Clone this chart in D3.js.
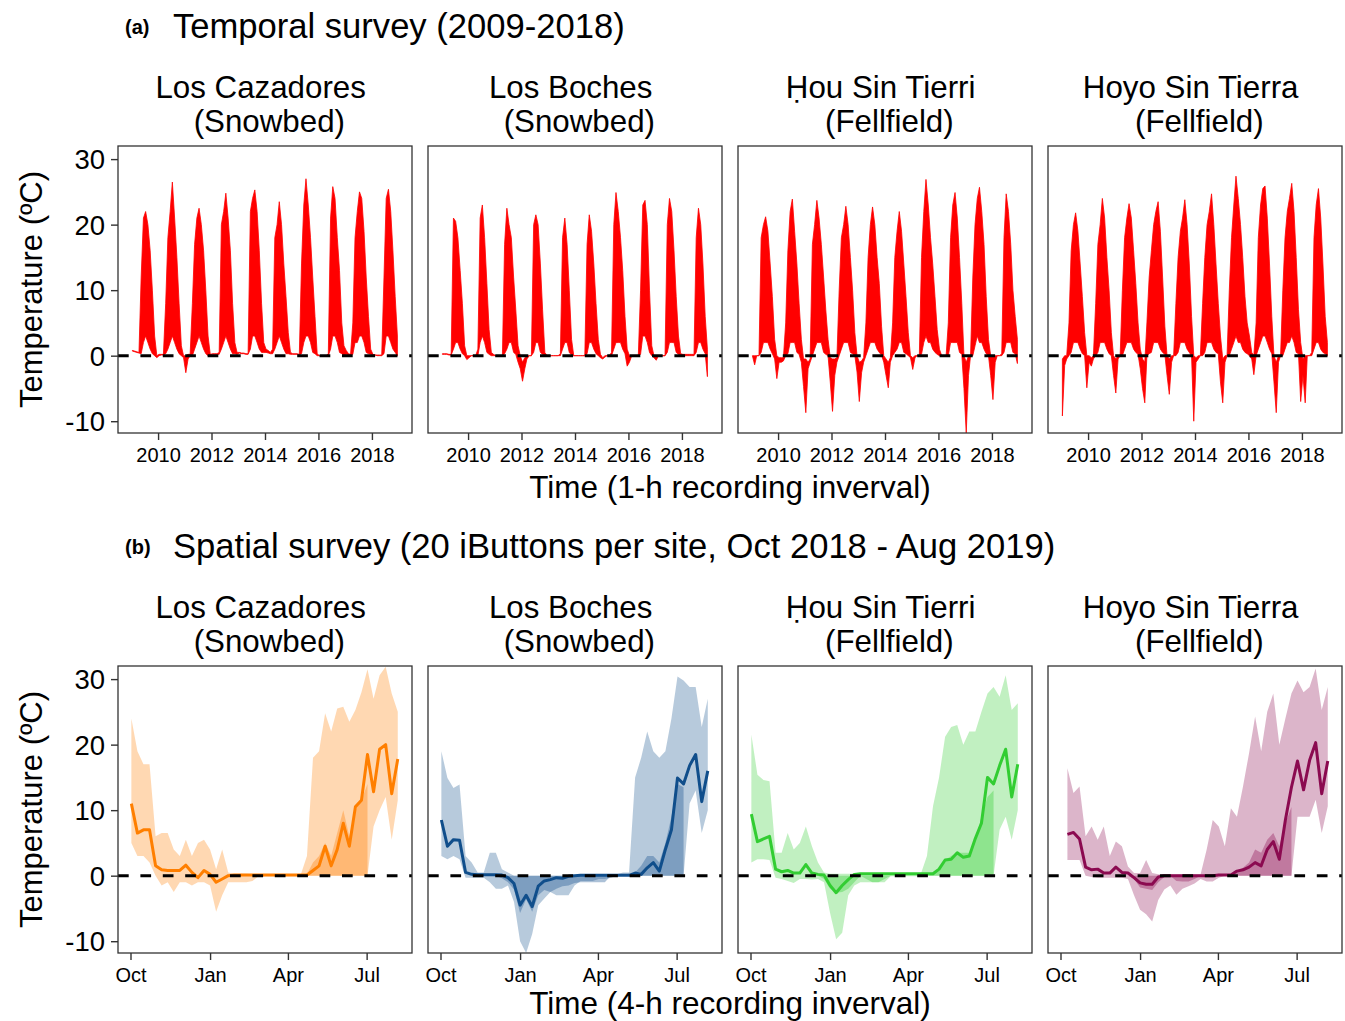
<!DOCTYPE html>
<html>
<head>
<meta charset="utf-8">
<script src="https://cdn.jsdelivr.net/npm/d3@7"></script>
<style>
  body { margin: 0; background: #fff; }
  text { font-family: "Liberation Sans", Arial, Helvetica, sans-serif; fill: #000; }
</style>
</head>
<body>
<svg id="chart" width="1345" height="1021"></svg>
<script>
// ---- data ----------------------------------------------------------------
// (a) temporal survey: monthly envelope (max / min of the hourly records), one row per year 2009..2018
var years = [2009, 2010, 2011, 2012, 2013, 2014, 2015, 2016, 2017, 2018];
var yearTicks = [2010, 2012, 2014, 2016, 2018];

var cazHi = [
  [.8,.7,.6,.5,12,21,22,20,16,10,3,0],
  [.2,.2,.2,8,18,22,26.5,21,15,8,1.5,0],
  [0,.2,.2,8,17,21,22.5,20,16,10,3,.2],
  [.3,.3,.3,.5,20,22,24.8,21,16,8,2,.5],
  [.5,.4,.4,.3,.3,22,24,25.3,22,16,8,2],
  [1,.8,.5,1,18,20,23.5,20,14,9,3.5,.5],
  [.3,.3,.3,.2,14,23,27,23,18,12,6,.3],
  [0,0,0,0,.3,21,25.8,24,18,13,5,1.5],
  [.8,.3,.2,5,18,22,25,24,19,12,6,1],
  [.2,.1,.1,.1,.1,12,24,25.4,22,16,9,3]
];
var cazLo = [
  [.7,.6,.5,.4,.3,2,3,2,1,.3,0,-.3],
  [0,.1,.1,.3,1,2,3,2,1,.3,0,-.3],
  [-2.6,-.5,0,0,1,2,3,2,1,.3,0,0],
  [.2,.2,.2,.2,1,2,3,2,1,.3,.3,.2],
  [.4,.3,.3,.2,.2,1,3,3,2,1,.5,.5],
  [.5,.4,.3,.3,1,2,3,2,1,.3,.3,.2],
  [.2,.2,.2,.1,.3,2,3,3,2,.5,.3,0],
  [0,0,0,0,0,1,3,3,2,.5,.3,0],
  [.2,.1,.1,.2,2,2,3,3,2,.5,.3,.2],
  [.1,.1,0,0,0,.3,3,3,2,1,.5,0]
];
var bochesHi = [
  [.3,.3,.3,.2,.2,21,20.5,18,13,8,1.5,0],
  [0,0,0,0,1,21,23,18,11,4,.5,.2],
  [0,0,0,0,17,22.5,20,18,12,7,1.5,0],
  [-1,-.3,0,0,0,20,21.5,20,14,7,.5,0],
  [0,0,0,0,0,.3,18,21,17,10,2.5,0],
  [0,0,0,0,0,17,21.5,19,14,8,2.5,.2],
  [-.3,0,0,0,.5,20,24.9,22,18,13,6,1],
  [0,0,0,0,0,10,23,23.7,20,10,1.5,0],
  [0,0,0,0,0,20,24,22,16,9,3,.3],
  [.2,.2,.2,.2,.2,.2,18,22.5,20,14,6,1]
];
var bochesLo = [
  [.2,.2,.2,.1,.1,1,2,2,1,.3,0,-.6],
  [-.3,0,0,0,0,2,3,2,.5,.2,0,0],
  [0,0,0,0,.3,1,2,2,.5,.2,-1,-2],
  [-3.9,-2,-.5,0,0,.5,2,2,.5,.2,0,0],
  [0,0,0,0,0,0,1,2,2,.5,.1,0],
  [0,0,0,0,0,.3,2,2,1,.3,0,-.3],
  [-.5,-.2,0,0,0,1,2,2,2,1,.3,-1.6],
  [-1,0,0,0,0,.2,3,3,2,.5,0,-.3],
  [-.7,0,0,0,0,.5,2,2,2,.5,.2,0],
  [0,0,0,0,0,0,.5,2,2,1,.3,-3.2]
];
var houHi = [
  [0,0,0,0,18,20,21.2,19,14,9,2.5,0],
  [-.3,-.3,-.3,5,16,22,23.9,19,14,8,2.5,-.5],
  [-.5,-1,-.5,17,20,23.7,21,17,12,7,2.5,-.3],
  [-.5,-.5,-.3,10,18,20,22.8,20,15,10,3.5,0],
  [-1,-.8,-.3,5,15,20,22.7,20,15,11,4.5,0],
  [-.5,-1,-.3,5,15,19,22,19,14,9,3.5,0],
  [-.3,0,0,0,15,22,26.9,23,18,14,9,4],
  [1,0,0,0,5,18,23,24.9,21,15,8,0],
  [-1,0,0,12,20,24,25.7,22,17,9,2.5,0],
  [0,0,0,0,.3,18,24.7,22,17,10,6,2.5]
];
var houLo = [
  [0,-1.4,0,0,.5,2,2,2,1,.3,-.5,-3.5],
  [-1,-1,-.8,0,.3,2,2,2,.5,.2,-1,-4.7],
  [-8.7,-2,-1,0,1,2,2,2,.5,.2,0,-4],
  [-8.5,-3,-1,0,1,2,2,2,.5,.3,0,-2.5],
  [-7,-2.6,-1,0,1,2,2,2,1,.5,.1,-1],
  [-3,-4.9,-1,0,.5,1,2,2,.5,.3,0,-.3],
  [-2.1,-.3,0,0,.2,2,3,2,2,1,.5,.2],
  [0,0,0,0,0,2,2,2,2,.5,.2,-5],
  [-11.8,-3,0,0,1.5,3,2,2,1,.3,0,-3],
  [-6.7,-1,0,0,0,.5,2,2,2,.5,.3,-1.2]
];
var hoyoHi = [
  [-.5,0,0,5,16,20,21.8,19,14,9,3.5,0],
  [0,-.3,0,8,17,20,24,21,15,10,3.5,0],
  [-.5,0,0,10,18,21,23.2,21,16,11,5,1],
  [-.5,-1,5,12,16,20,22,23.5,19,12,4.5,0],
  [-.5,0,0,8,15,19,21,23.8,20,14,6,0],
  [-.3,0,0,8,15,20,22,24.7,20,14,8,3],
  [-.5,0,0,10,18,23,27.4,24,20,15,9,5],
  [3,.5,0,5,18,23,25.5,25.9,21,14,6,0],
  [-1,0,0,10,18,22,24,26.3,22,15,7,2],
  [-.5,0,0,0,.5,18,23,25.5,21,14,6,2]
];
var hoyoLo = [
  [-9.2,-1.5,-.5,0,.5,2,2,2,1,.3,0,-4.9],
  [-1,-1.6,-.5,0,.5,2,2,2,1,.3,0,-3],
  [-5.7,-.5,0,0,1,2,2,2,1,.5,.2,-2],
  [-5,-7.2,0,.3,.5,2,2,2,1,.5,.2,-3],
  [-5.9,-1,0,0,.5,2,2,2,1,.5,0,-10],
  [-1,-.5,0,0,.5,2,2,2,1,.5,.3,-4],
  [-7.2,-1,0,0,1,2,3,2,2,1,.5,.3],
  [0,-.5,-2.9,0,1,2,3,3,2,1,.3,-4],
  [-8.7,-1,0,0,1,2,2,3,2,.5,.3,-7],
  [-3,-7.2,0,0,0,1,2,2,1,.5,.3,0]
];

// (b) spatial survey: weekly values from 2 Oct 2018 (45 weeks)
// mean = thick line, hi/lo = spread of the 20 iButtons, band = dense core filled to 0
var cazMean = [11,6.5,7,7,1.5,.9,.8,.8,.8,1.6,.5,-.3,.8,.2,-1,-.5,0,
  .1,.1,.1,.1,.1,.1,.1,.1,.1,.1,.1,.1,.1,
  .8,1.5,4.5,1.5,4,8,4.5,10.5,11.5,18.5,12.8,19.3,20,12.5,17.8];
var cazHiB = [24,19,17,17,6,6.5,6.5,4,3,5.5,3,5,5.5,4,1,4,.5,.3,.3,.3,.2,
  .2,.2,.2,.2,.2,.2,.2,.2,
  3,18,19,24.8,22,25.5,25.8,23.5,25.3,28,31.5,27,30.6,31.9,27.8,25];
var cazLoB = [5,3,3,2,0,-1.5,-1,-2.5,-1,-1,-1.5,-1,-1,-1.5,-5.5,-3,-1,-1,-1,-1,-.8,
  -.1,-.1,-.1,-.1,-.1,-.1,-.1,-.1,
  0,0,0,0,0,0,0,0,0,0,0,7.5,10,12,5.5,11.5];
var cazBand = [0,0,0,0,0,0,0,0,0,0,0,0,0,0,0,0,0,0,0,0,0,0,0,0,0,0,0,0,0,
  .2,2,3,5,3,6.5,10,6,10,11.5,14,null,null,null,null,null];

var bochesMean = [8.5,4.5,5.5,5.4,.5,.2,.15,.15,.15,.15,.1,-.3,-1.2,-4.5,-3,-4.7,-1.6,-.8,-.6,-.3,-.4,-.1,0,
  .05,.05,.05,.05,.05,.05,.05,.05,.05,
  .4,.2,1.2,2,.7,4,7,14.9,14,16.8,18.5,11.3,16];
var bochesHiB = [19,14.9,13.4,13.9,3,2,.5,.5,3.5,3.5,1,.5,0,0,0,0,0,0,0,0,0,0,0,0,0,0,0,0,
  .2,.2,.5,.5,15,18,22,19,18,19,24,30.4,29.8,28.8,28.8,22.7,27];
var bochesLoB = [3,2.5,3,2.5,-.3,-.3,-.3,-.3,-1,-2,-2,-1.5,-4,-10,-11.8,-8.9,-4.5,-3.5,-2.5,-3,-3,-3,-1.5,
  -.8,-.8,-.8,-.5,-.5,-.3,0,0,0,
  0,0,0,0,0,0,0,0,0,11,13,6.5,10];
var bochesBand = [0,0,0,0,0,0,0,0,0,0,
  -.4,-1,-2.1,-5.7,-3.6,-5.5,-3,-2.2,-2.5,-2,-1.6,-1.5,-1.1,-1,-1,-1,-1,-1,
  0,0,0,0,
  .5,1.5,3,3,2,5,9,14,13.5,null,null,null,null];

var houMean = [9.4,5.2,5.6,6,1,.6,.8,.4,.4,1.7,.4,.2,.1,-1.5,-2.6,-1.5,-.6,.2,.3,
  .3,.3,.3,.3,.3,.3,.3,.3,.3,.3,.3,.3,
  1,2.4,2.5,3.5,2.8,3,5.7,8,15,14,16.8,19.3,12,17];
var houHiB = [21.5,15.4,14.6,14.4,3.5,3.5,6.5,4,5,7.5,4.5,2,.5,
  .3,.3,.3,.3,.3,.3,.3,.3,.3,.3,.3,.3,.3,.3,.3,.3,
  3,10.6,15,21.2,22.7,23,20,22,22,25,27.8,28.8,27.3,30.6,25.3,26.3];
var houLoB = [2,2.5,2.5,2.4,-.3,-.5,-.8,-1.1,-.5,-.5,-.6,-.5,-1,-5.7,-9.7,-8.7,-3,-1.5,-1,-1,-1,-1,-1,
  -.1,-.1,-.1,-.1,-.1,-.1,
  0,0,0,0,0,0,0,0,0,0,0,0,7,9,5.5,10];
var houBand = [0,0,0,0,0,0,0,0,0,0,0,0,
  -.5,-2,-2.6,-2.5,-2,-1,0,-.5,-1,-1,-.5,
  0,0,0,0,0,0,0,
  .3,1,2.4,3,3.5,3.5,3.5,5.5,9,12,13,null,null,null,null];

var hoyoMean = [null,6.3,6.6,5.6,1.3,.9,1,.4,.4,1.3,.5,.4,-.3,-1.1,-1.3,-1.3,-.2,0,
  0,0,0,0,0,0,0,0,
  .1,.1,.1,.7,.9,1.3,2,1.5,4,5.2,2.5,8.5,13.5,17.5,13.1,17.6,20.3,12.5,17.5];
var hoyoHiB = [null,16.4,12.6,13.6,6,7.5,5.5,7.5,3,5.2,4.5,1.4,.4,.4,2.4,.4,.2,.2,.2,.2,.2,.2,.2,.2,
  4,8.5,7.5,4.5,10.3,9,13.6,18.7,24.3,19,25,27.8,20,24,27.8,29.8,28,28.8,31.6,25.3,28.8];
var hoyoLoB = [null,2.4,2.4,2.4,0,-.2,-.3,-.3,-.3,-.3,-.3,-.5,-3,-5.2,-5.9,-7,-3.7,-2.1,-1.5,-2.9,-2,-1.6,-1.2,
  -.5,-.9,-.9,-.3,
  0,0,0,0,0,0,0,0,0,0,0,0,
  9,9,9,11.6,6.5,10.6];
var hoyoBand = [null,0,0,0,0,0,0,0,0,0,0,0,
  -.5,-1.8,-2,-2.2,-1,-.2,0,-.8,-.9,-.9,-.5,
  0,0,0,0,0,0,
  .5,1.2,2,4,3.5,5.5,6.5,4.5,8,10.5,null,null,null,null,null,null];

var monthTicks = ["2018-10-01", "2019-01-01", "2019-04-01", "2019-07-01"];
var siteNames = [["Los Cazadores ", " (Snowbed)"], ["Los Boches ", " (Snowbed)"],
                 ["\u1E24ou Sin Tierri ", " (Fellfield)"], ["Hoyo Sin Tierra ", " (Fellfield)"]];
var siteColors = ["#ff7f00", "#104e8b", "#32cd32", "#8b0a50"];
var yLimits = [-11.8, 32];
var yTicks = [-10, 0, 10, 20, 30];

// ---- layout --------------------------------------------------------------
var panelX = [118, 428, 738, 1048], panelW = 294, panelH = 287;
var rowY = [146, 666];

var svg = d3.select("#chart");
var parseDay = d3.timeParse("%Y-%m-%d");

function expand(span) {
  var pad = (span[1] - span[0]) * 0.05;
  return [new Date(+span[0] - pad), new Date(+span[1] + pad)];
}

var xTop = d3.scaleTime()
  .domain(expand([new Date(2009, 0, 1), new Date(2019, 0, 1)]))
  .range([0, panelW]);
var xBot = d3.scaleTime()
  .domain(expand([new Date(2018, 9, 2), new Date(2019, 7, 7)]))
  .range([0, panelW]);
var y = d3.scaleLinear().domain(yLimits).range([panelH, 0]);

// monthly records for the top row
function monthly(hi, lo) {
  var out = [];
  years.forEach(function (yr, i) {
    for (var m = 0; m < 12; m++) {
      out.push({date: new Date(yr, m, 15), hi: hi[i][m], lo: lo[i][m]});
    }
  });
  return out;
}
var topData = [monthly(cazHi, cazLo), monthly(bochesHi, bochesLo),
               monthly(houHi, houLo), monthly(hoyoHi, hoyoLo)];

var weekStart = new Date(2018, 9, 2);
function weekly(mean, hi, lo, band) {
  return mean.map(function (v, k) {
    return {date: d3.timeDay.offset(weekStart, 7 * k), mean: v, hi: hi[k], lo: lo[k], band: band[k]};
  });
}
var botData = [weekly(cazMean, cazHiB, cazLoB, cazBand),
               weekly(bochesMean, bochesHiB, bochesLoB, bochesBand),
               weekly(houMean, houHiB, houLoB, houBand),
               weekly(hoyoMean, hoyoHiB, hoyoLoB, hoyoBand)];

function panel(row, col, xScale, tickVals, fmt, drawData) {
  var g = svg.append("g")
    .attr("transform", "translate(" + panelX[col] + "," + rowY[row] + ")");
  var clipId = "clip" + row + "_" + col;
  g.append("clipPath").attr("id", clipId)
    .append("rect").attr("width", panelW).attr("height", panelH);
  var plot = g.append("g").attr("clip-path", "url(#" + clipId + ")");

  drawData(plot);

  // zero reference
  plot.append("line")
    .attr("x1", 0).attr("x2", panelW)
    .attr("y1", y(0)).attr("y2", y(0))
    .attr("stroke", "#000").attr("stroke-width", 3)
    .attr("stroke-dasharray", "10.7,11.7");

  g.append("rect")
    .attr("width", panelW).attr("height", panelH)
    .attr("fill", "none").attr("stroke", "#333").attr("stroke-width", 1.3);

  var xAxis = g.append("g")
    .attr("transform", "translate(0," + panelH + ")")
    .call(d3.axisBottom(xScale).tickValues(tickVals).tickFormat(fmt).tickSize(7).tickPadding(8));
  xAxis.select(".domain").remove();
  xAxis.selectAll(".tick line").attr("stroke", "#333").attr("stroke-width", 1.4);
  xAxis.selectAll(".tick text").attr("font-size", 20).attr("fill", "#000")
    .style("font-family", '"Liberation Sans", Arial, sans-serif');

  if (col === 0) {
    var yAxis = g.append("g")
      .call(d3.axisLeft(y).tickValues(yTicks).tickFormat(function (d) { return String(d); })
        .tickSize(7).tickPadding(6));
    yAxis.select(".domain").remove();
    yAxis.selectAll(".tick line").attr("stroke", "#333").attr("stroke-width", 1.4);
    yAxis.selectAll(".tick text").attr("font-size", 27.5).attr("fill", "#000")
      .attr("dy", "0.35em")
      .style("font-family", '"Liberation Sans", Arial, sans-serif');
  }

  // facet strip (two lines)
  var cx = panelW / 2;
  siteNames[col].forEach(function (line, i) {
    g.append("text")
      .attr("x", cx).attr("y", -48 + i * 34)
      .attr("text-anchor", "middle")
      .attr("font-size", 31.3)
      .style("white-space", "pre")
      .text(line);
  });
}

// ---- row (a) -------------------------------------------------------------
var topTicks = yearTicks.map(function (yr) { return new Date(yr, 0, 1); });
var areaTop = d3.area()
  .x(function (d) { return xTop(d.date); })
  .y0(function (d) { return y(d.lo); })
  .y1(function (d) { return y(d.hi); });

topData.forEach(function (series, col) {
  panel(0, col, xTop, topTicks, d3.timeFormat("%Y"), function (plot) {
    plot.append("path").datum(series)
      .attr("d", areaTop)
      .attr("fill", "#ff0000")
      .attr("stroke", "#ff0000")
      .attr("stroke-width", 0.8)
      .attr("stroke-linejoin", "round");
  });
});

// ---- row (b) -------------------------------------------------------------
var botTicks = monthTicks.map(parseDay);
botData.forEach(function (series, col) {
  var color = siteColors[col];
  panel(1, col, xBot, botTicks, d3.timeFormat("%b"), function (plot) {
    var spread = d3.area()
      .defined(function (d) { return d.hi != null; })
      .x(function (d) { return xBot(d.date); })
      .y0(function (d) { return y(d.lo); })
      .y1(function (d) { return y(d.hi); });
    plot.append("path").datum(series)
      .attr("d", spread)
      .attr("fill", color).attr("fill-opacity", 0.3);

    var band = d3.area()
      .defined(function (d) { return d.band != null; })
      .x(function (d) { return xBot(d.date); })
      .y0(y(0))
      .y1(function (d) { return y(d.band); });
    plot.append("path").datum(series)
      .attr("d", band)
      .attr("fill", color).attr("fill-opacity", 0.35);

    var meanLine = d3.line()
      .defined(function (d) { return d.mean != null; })
      .x(function (d) { return xBot(d.date); })
      .y(function (d) { return y(d.mean); });
    plot.append("path").datum(series)
      .attr("d", meanLine)
      .attr("fill", "none")
      .attr("stroke", color).attr("stroke-width", 3)
      .attr("stroke-linejoin", "round");
  });
});

// ---- titles --------------------------------------------------------------
var titles = [
  {tag: "(a)", text: "Temporal survey (2009-2018)", y: 38},
  {tag: "(b)", text: "Spatial survey (20 iButtons per site, Oct 2018 - Aug 2019)", y: 558}
];
titles.forEach(function (t) {
  svg.append("text").attr("x", 125).attr("y", t.y - 4)
    .attr("font-size", 20).attr("font-weight", "bold").text(t.tag);
  svg.append("text").attr("x", 173).attr("y", t.y)
    .attr("font-size", 34.6).text(t.text);
});

var xTitles = [
  {text: "Time (1-h recording inverval)", y: 498},
  {text: "Time (4-h recording inverval)", y: 1014}
];
xTitles.forEach(function (t) {
  svg.append("text")
    .attr("x", (panelX[0] + panelX[3] + panelW) / 2).attr("y", t.y)
    .attr("text-anchor", "middle").attr("font-size", 31.5).text(t.text);
});

rowY.forEach(function (top) {
  svg.append("text")
    .attr("transform", "translate(42," + (top + panelH / 2) + ") rotate(-90)")
    .attr("text-anchor", "middle").attr("font-size", 31)
    .text("Temperature (\u00BAC)");
});
</script>
</body>
</html>
